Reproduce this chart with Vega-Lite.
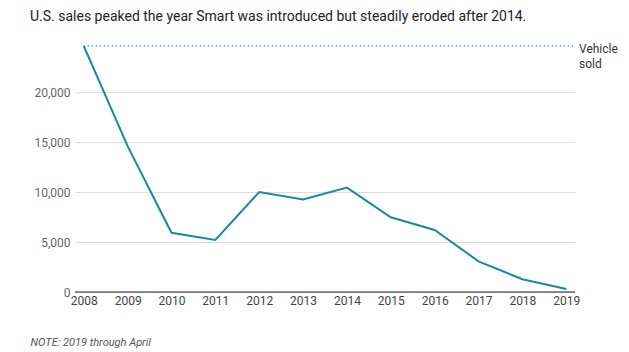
{
  "$schema": "https://vega.github.io/schema/vega-lite/v6.json",
  "width": 500,
  "height": 246,
  "autosize": {"type": "none"},
  "padding": {"left": 75, "top": 46, "right": 54, "bottom": 60},
  "background": "white",
  "config": {
    "font": "Roboto",
    "view": {"stroke": null}
  },
  "title": {
    "text": "U.S. sales peaked the year Smart was introduced but steadily eroded after 2014.",
    "anchor": "start",
    "frame": "group",
    "dx": -45,
    "offset": 18,
    "fontSize": 14,
    "fontWeight": "normal",
    "color": "#222222",
    "font": "Roboto"
  },
  "datasets": {
    "sales": [
      {"year": 2008, "sold": 24622},
      {"year": 2009, "sold": 14595},
      {"year": 2010, "sold": 5927},
      {"year": 2011, "sold": 5208},
      {"year": 2012, "sold": 10009},
      {"year": 2013, "sold": 9264},
      {"year": 2014, "sold": 10453},
      {"year": 2015, "sold": 7484},
      {"year": 2016, "sold": 6211},
      {"year": 2017, "sold": 3071},
      {"year": 2018, "sold": 1276},
      {"year": 2019, "sold": 300}
    ],
    "peak": [
      {"start": 2008, "end": 2019.2, "sold": 24622, "label": "Vehicle\nsold"}
    ]
  },
  "layer": [
    {
      "data": {"name": "sales"},
      "mark": {"type": "line", "color": "#1b87a6", "strokeWidth": 2},
      "encoding": {
        "x": {
          "field": "year",
          "type": "quantitative",
          "scale": {"domain": [2007.8, 2019.2], "nice": false, "zero": false},
          "axis": {
            "values": [2008, 2009, 2010, 2011, 2012, 2013, 2014, 2015, 2016, 2017, 2018, 2019],
            "format": "d",
            "grid": false,
            "ticks": false,
            "domain": false,
            "labelFontSize": 12,
            "labelColor": "#444444",
            "labelPadding": 3,
            "title": "NOTE: 2019 through April",
            "titleFontStyle": "italic",
            "titleFontWeight": "normal",
            "titleFontSize": 11,
            "titleColor": "#555555",
            "titleAnchor": "start",
            "titleAlign": "left",
            "titleBaseline": "middle",
            "titleX": -45,
            "titleY": 50
          }
        },
        "y": {
          "field": "sold",
          "type": "quantitative",
          "scale": {"domain": [0, 24622], "nice": false},
          "axis": {
            "values": [0, 5000, 10000, 15000, 20000],
            "format": ",d",
            "title": null,
            "domain": false,
            "ticks": false,
            "gridColor": "#dddddd",
            "labelFontSize": 12,
            "labelColor": "#666666",
            "labelPadding": 5
          }
        }
      }
    },
    {
      "data": {"values": [{"v": 0}]},
      "mark": {"type": "rule", "color": "#222222", "strokeWidth": 1},
      "encoding": {"y": {"field": "v", "type": "quantitative"}}
    },
    {
      "data": {"name": "peak"},
      "mark": {"type": "rule", "color": "#1b87a6", "strokeDash": [1, 3], "strokeWidth": 1.5},
      "encoding": {
        "x": {"field": "start", "type": "quantitative"},
        "x2": {"field": "end"},
        "y": {"field": "sold", "type": "quantitative"}
      }
    },
    {
      "data": {"name": "peak"},
      "mark": {"type": "text", "align": "left", "baseline": "middle", "dx": 4, "dy": 3, "fontSize": 12, "color": "#333333", "lineBreak": "\n", "lineHeight": 15},
      "encoding": {
        "x": {"field": "end", "type": "quantitative"},
        "y": {"field": "sold", "type": "quantitative"},
        "text": {"field": "label"}
      }
    }
  ]
}
